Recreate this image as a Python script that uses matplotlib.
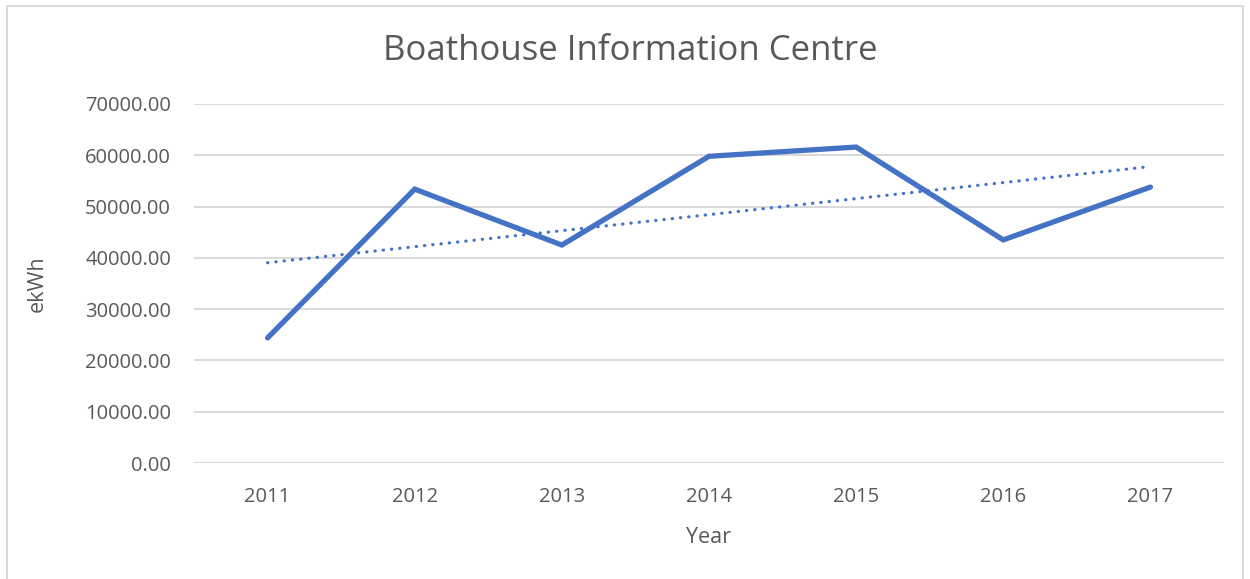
import numpy as np
import matplotlib.pyplot as plt
from matplotlib.patches import Rectangle

# -----------------------------
# Data
# -----------------------------
years = ["2011", "2012", "2013", "2014", "2015", "2016", "2017"]
energy = [24400, 53400, 42500, 59800, 61600, 43500, 53800]

title = "Boathouse Information Centre"
y_ticks = [0, 10000, 20000, 30000, 40000, 50000, 60000, 70000]

# -----------------------------
# Style
# -----------------------------
plt.rcParams['font.family'] = ['Open Sans', 'DejaVu Sans']
text_color = "#595959"
line_color = "#4472C4"
grid_color = "#D9D9D9"

fig = plt.figure(figsize=(12.5, 5.79), dpi=100)
ax = fig.add_axes([0.1552, 0.2003, 0.824, 0.6201])

x = np.arange(len(years))
ax.plot(x, energy, color=line_color, linewidth=3.8, solid_capstyle='round', solid_joinstyle='miter', zorder=3)

# linear trendline
slope, intercept = np.polyfit(x, energy, 1)
ax.plot(x, slope * x + intercept, color=line_color, linewidth=2.3,
        linestyle=(0, (0.1, 2.5)), dash_capstyle='round', zorder=3)

ax.set_xlim(-0.5, len(years) - 0.5)
ax.set_ylim(0, 70000)
ax.set_xticks(x)
ax.set_xticklabels(years)
ax.set_yticks(y_ticks)
ax.set_yticklabels([f"{v:.2f}" for v in y_ticks])

ax.yaxis.grid(True, color=grid_color, linewidth=1.4)
ax.set_axisbelow(True)
for s in ax.spines.values():
    s.set_visible(False)
ax.tick_params(length=0, labelsize=14.5, colors=text_color)
ax.tick_params(axis='y', pad=16.5)
ax.tick_params(axis='x', pad=17.5)

ax.set_xlabel("Year", fontsize=15.5, color=text_color, labelpad=14)
ax.set_ylabel("ekWh", fontsize=15.5, color=text_color)
ax.yaxis.set_label_coords(-0.142, 0.5)
fig.text(0.504, 0.912, title, fontsize=25, color=text_color, ha='center', va='center')

# chart border
fig.patches.append(Rectangle((0.0056, -0.01), 0.989, 1.0, transform=fig.transFigure,
                             fill=False, edgecolor=grid_color, linewidth=1.4))

fig.savefig("out.png", dpi=100)
